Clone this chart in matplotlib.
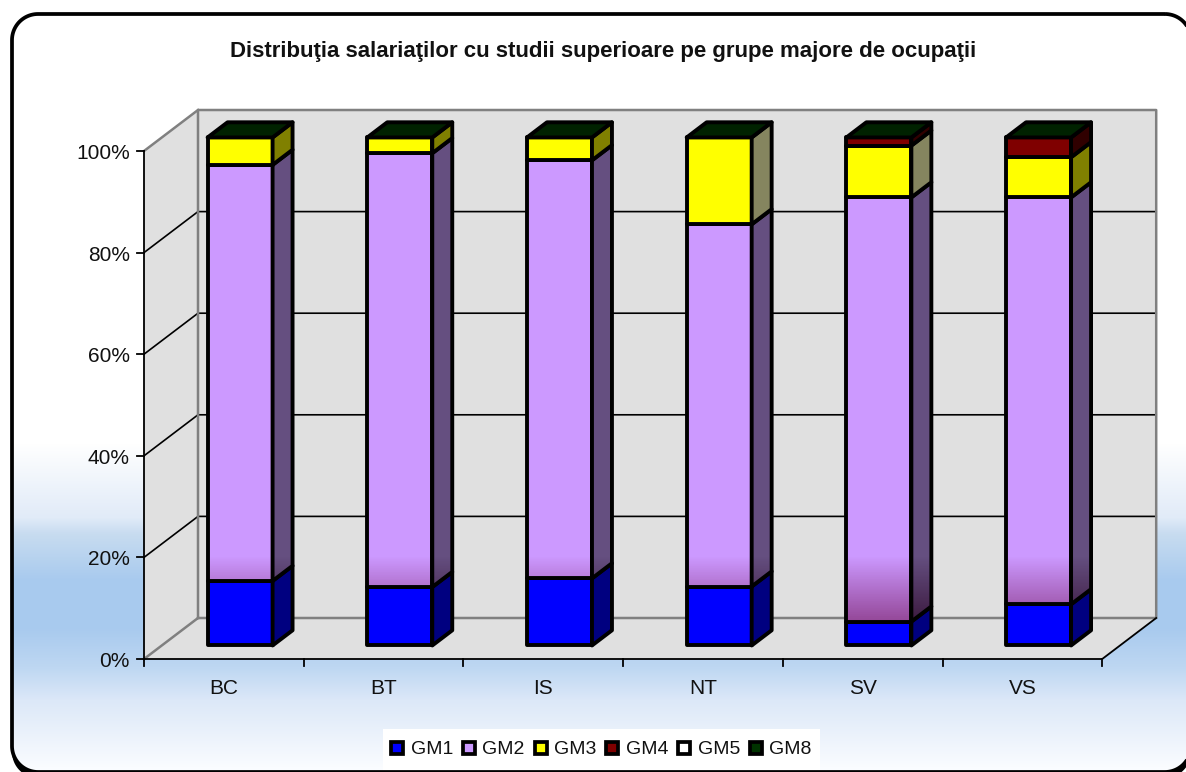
import matplotlib
matplotlib.use("Agg")
import matplotlib.pyplot as plt
import numpy as np
from matplotlib.colors import to_rgb
from matplotlib.patches import Polygon, Rectangle

plt.rcParams['font.family'] = ['Liberation Sans', 'DejaVu Sans']

# Share of employees per major occupation group, in percent
counties = ['BC', 'BT', 'IS', 'NT', 'SV', 'VS']
groups = ['GM1', 'GM2', 'GM3', 'GM4', 'GM5', 'GM8']
gm1 = [12.7, 11.5, 13.2, 11.6, 4.7, 8.1]
gm2 = [81.9, 85.4, 82.3, 71.3, 83.5, 80.1]
gm3 = [5.4, 3.1, 4.5, 17.1, 10.2, 7.9]
gm4 = [0, 0, 0, 0, 1.6, 3.9]
gm5 = [0, 0, 0, 0, 0, 0]
gm8 = [0, 0, 0, 0, 0, 0]
series = [gm1, gm2, gm3, gm4, gm5, gm8]
pct_ticks = [0, 20, 40, 60, 80, 100]

front_colors = ['#0000FF', '#CC99FF', '#FFFF00', '#7F0000', '#FFFFFF', '#003300']
side_colors = ['#000080', '#654F80', '#808000', '#300000', '#808080', '#001A00']
top_color = '#002200'
faded_yellow = '#85855F'  # side of the tall yellow blocks in NT and SV

W, H = 1186, 772
X0, Y0 = 144, 659      # pixel position of the front 0% corner
CAT_PX, PCT_PX = 159.7, 5.08
DEPTH_X, DEPTH_Y = 54 / CAT_PX, 41 / PCT_PX
BAR_W = 65 / CAT_PX
BAR_CENTER = 0.49
BAR_FRONT, BAR_BACK = 0.33, 0.70
TEXT_COLOR = '#111111'


def proj(x, pct, depth=0.0):
    return x + depth * DEPTH_X, pct + depth * DEPTH_Y


def round_rect(x0, y0, x1, y1, r):
    # outline of a rounded rectangle in pixel coordinates, y pointing down
    t = np.linspace(0, np.pi / 2, 24)
    pts = []
    for cx, cy, start in ((x1 - r, y0 + r, -np.pi / 2), (x1 - r, y1 - r, 0),
                          (x0 + r, y1 - r, np.pi / 2), (x0 + r, y0 + r, np.pi)):
        pts.append(np.column_stack([cx + r * np.cos(start + t), cy + r * np.sin(start + t)]))
    return np.vstack(pts)


fig = plt.figure(figsize=(W / 100, H / 100), dpi=100)

# Page layer in pixel coordinates: gradient, rounded border, legend box
page = fig.add_axes([0, 0, 1, 1])
page.axis('off')

rows = np.arange(H)
stop_y = [0, 443, 517, 533, 580, 627, 667, 700, 767, 772]
stop_r = [255, 255, 225, 200, 168, 168, 190, 220, 250, 252]
stop_g = [255, 255, 235, 220, 202, 202, 215, 232, 252, 253]
stop_b = [255, 255, 248, 240, 238, 238, 242, 248, 255, 255]
grad = np.stack([np.interp(rows, stop_y, s) for s in (stop_r, stop_g, stop_b)], axis=1) / 255

outline = round_rect(12, 14, 1191, 772, 26)
page.add_patch(Polygon(round_rect(12, 20, 1191, 778, 26), closed=True, fc='black', ec='none', zorder=0))
bg = page.imshow(grad[:, None, :], extent=[0, W, H, 0], aspect='auto', zorder=1)
frame = Polygon(outline, closed=True, fc='none', ec='black', lw=2.7, zorder=3)
page.add_patch(frame)
bg.set_clip_path(frame)
page.set_xlim(0, W)
page.set_ylim(H, 0)

page.add_patch(Rectangle((383, 729), 437, 41, fc='white', ec='none', zorder=2))
for i, name in enumerate(groups):
    page.plot([397 + i * 71.8], [748], marker='s', ms=8.4, mfc=front_colors[i], mec='black',
              mew=2.7, ls='none', zorder=4)
    page.text(410.5 + i * 71.8, 749, name, fontsize=14, ha='left', va='center',
              color=TEXT_COLOR, zorder=4)

page.text(603, 51, 'Distribuţia salariaţilor cu studii superioare pe grupe majore de ocupaţii',
          fontsize=16, fontweight='bold', ha='center', va='center', color=TEXT_COLOR, zorder=4)

# Chart layer: x in category units, y in percent
ax = fig.add_axes([0, 0, 1, 1], facecolor='none')
ax.axis('off')
n = len(counties)
wall_color = '#E0E0E0'
edge_gray = '#808080'

floor = [proj(0, 0), proj(n, 0), proj(n, 0, 1), proj(0, 0, 1)]
side_wall = [proj(0, 0), proj(0, 0, 1), proj(0, 100, 1), proj(0, 100)]
back_wall = [proj(0, 0, 1), proj(n, 0, 1), proj(n, 100, 1), proj(0, 100, 1)]
for poly in (floor, side_wall, back_wall):
    ax.add_patch(Polygon(poly, closed=True, fc=wall_color, ec='none', zorder=1))

for p in pct_ticks[1:-1]:
    xs, ys = zip(proj(0, p), proj(0, p, 1), proj(n, p, 1))
    ax.plot(xs, ys, color='black', lw=1.2, zorder=2)
for pts in ([proj(0, 0), proj(0, 0, 1), proj(n, 0, 1), proj(n, 100, 1), proj(0, 100, 1),
             proj(0, 0, 1)], [proj(0, 100, 1), proj(0, 100)]):
    xs, ys = zip(*pts)
    ax.plot(xs, ys, color=edge_gray, lw=1.8, zorder=2)

# Front axes and the open edge of the floor
xs, ys = zip(proj(0, 100), proj(0, 0), proj(n, 0), proj(n, 0, 1))
ax.plot(xs, ys, color='black', lw=1.3, zorder=3)
tick_len_x, tick_len_y = 7 / CAT_PX, 7 / PCT_PX
label_drop = 2.5 / PCT_PX
for p in pct_ticks:
    ax.plot([-tick_len_x, 0], [p, p], color='black', lw=1.3, zorder=3)
    ax.text(-14 / CAT_PX, p - label_drop, f'{p}%', fontsize=15, ha='right', va='center',
            color=TEXT_COLOR)
for i in range(n + 1):
    ax.plot([i, i], [0, -tick_len_y], color='black', lw=1.3, zorder=3)
for i, name in enumerate(counties):
    ax.text(i + 0.5, -30 / PCT_PX, name, fontsize=15, ha='center', va='center', color=TEXT_COLOR)

# Darkening towards the foot of the GM2 blocks, by screen row
shade_top, shade_bottom = 20.3, 3.0
shade_alpha = np.linspace(0, 0.9, 128)


def shade_image(color):
    img = np.zeros((128, 1, 4))
    img[..., :3] = to_rgb(color)
    img[:, 0, 3] = shade_alpha
    return img


order = 10
for i in range(n):
    left = i + BAR_CENTER - BAR_W / 2
    right = i + BAR_CENTER + BAR_W / 2
    base = 0.0
    for g, values in enumerate(series):
        v = values[i]
        if v == 0:
            continue
        top = base + v
        front = [proj(left, base, BAR_FRONT), proj(right, base, BAR_FRONT),
                 proj(right, top, BAR_FRONT), proj(left, top, BAR_FRONT)]
        side = [proj(right, base, BAR_FRONT), proj(right, base, BAR_BACK),
                proj(right, top, BAR_BACK), proj(right, top, BAR_FRONT)]
        side_c = side_colors[g]
        if g == 2 and counties[i] in ('NT', 'SV'):
            side_c = faded_yellow
        for poly, fill, dark in ((front, front_colors[g], '#781E64'), (side, side_c, '#280020')):
            patch = Polygon(poly, closed=True, fc=fill, ec='none', zorder=order)
            ax.add_patch(patch)
            order += 1
            if g == 1:
                xmin = proj(left, 0, BAR_FRONT)[0]
                xmax = proj(right, 0, BAR_BACK)[0]
                im = ax.imshow(shade_image(dark), extent=[xmin, xmax, shade_bottom, shade_top],
                               aspect='auto', interpolation='nearest', zorder=order)
                im.set_clip_path(patch)
                order += 1
            ax.add_patch(Polygon(poly, closed=True, fc='none', ec='black', lw=2.8,
                                 joinstyle='round', zorder=order))
            order += 1
        base = top
    cap = [proj(left, base, BAR_FRONT), proj(right, base, BAR_FRONT),
           proj(right, base, BAR_BACK), proj(left, base, BAR_BACK)]
    ax.add_patch(Polygon(cap, closed=True, fc=top_color, ec='black', lw=2.8,
                         joinstyle='round', zorder=order))
    order += 1

ax.set_xlim(-X0 / CAT_PX, (W - X0) / CAT_PX)
ax.set_ylim((Y0 - H) / PCT_PX, Y0 / PCT_PX)

fig.savefig('out.png', dpi=100)
